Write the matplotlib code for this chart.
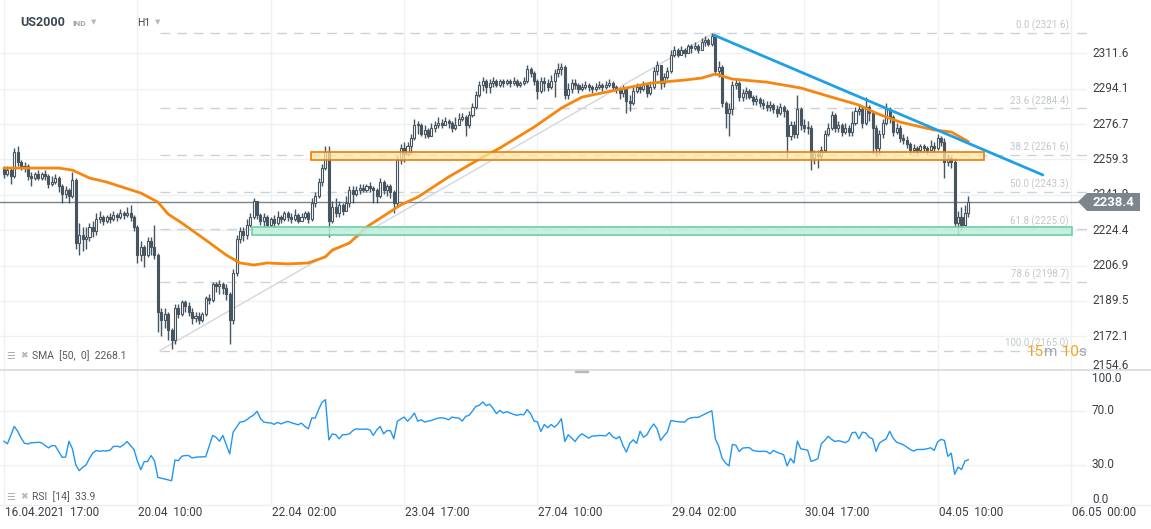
import numpy as np
import matplotlib.pyplot as plt
import matplotlib.transforms as mtransforms
from matplotlib.patches import Rectangle, Polygon
from matplotlib.lines import Line2D

plt.rcParams['font.family'] = ['Roboto', 'DejaVu Sans']

# hourly candles, bar index = position on the time axis
first_open = 2255.0
close = [2252, 2254, 2251, 2263, 2258, 2255, 2256, 2251, 2250, 2252, 2250, 2252, 2251, 2247, 2248, 2250, 2246, 2242, 2244, 2241, 2249, 2218, 2222, 2220,
         2221, 2226, 2224, 2230, 2231, 2229, 2231, 2230, 2232, 2231, 2233, 2232, 2233, 2231, 2226, 2212, 2216, 2212, 2219, 2216, 2212, 2184,
         2180, 2183, 2175, 2170, 2186, 2183, 2189, 2187, 2184, 2181, 2182, 2180, 2183, 2191, 2190, 2198, 2197, 2198, 2196, 2193,
         2180, 2203, 2220, 2224, 2222, 2227, 2231, 2239, 2232, 2229, 2231, 2227, 2230, 2228, 2231, 2230, 2233, 2231, 2230, 2232,
         2229, 2231, 2233, 2230, 2238, 2241, 2248, 2255, 2263, 2229, 2236, 2233, 2237, 2234,
         2238, 2244, 2242, 2244, 2245, 2244, 2246, 2245, 2244, 2241, 2248, 2244, 2246, 2243, 2238, 2259, 2265, 2262, 2266, 2270,
         2276, 2276, 2272, 2274, 2271, 2275, 2276, 2277, 2276, 2278, 2277, 2275, 2276, 2279, 2280, 2276,
         2281, 2285, 2291, 2296, 2298, 2295, 2297, 2298, 2296, 2298, 2297, 2298, 2297, 2298, 2296, 2297, 2298, 2304, 2302, 2298,
         2293, 2298, 2297, 2295, 2298, 2302, 2304, 2305, 2291, 2294, 2297, 2296, 2294, 2295, 2296, 2295, 2294, 2295, 2296, 2295,
         2296, 2297, 2295, 2294, 2292, 2294, 2288, 2287, 2293, 2295, 2294, 2296, 2292, 2295, 2303, 2306, 2297, 2300, 2303,
         2311, 2313, 2311, 2313, 2312, 2315, 2314, 2315, 2313, 2317, 2318, 2316, 2320, 2303, 2305, 2287, 2282, 2284, 2296, 2297,
         2290, 2292, 2293, 2290, 2288, 2289, 2287, 2286, 2285, 2286, 2284, 2282, 2285, 2283,
         2271, 2276, 2272, 2284, 2276, 2275, 2275, 2260, 2262, 2261, 2264, 2272, 2275, 2281, 2275, 2276, 2273, 2275, 2273, 2277,
         2283, 2284, 2277, 2285, 2282, 2275, 2265, 2272, 2277, 2284, 2280, 2273, 2275, 2270, 2269, 2267, 2264, 2265, 2264, 2266,
         2265, 2264, 2266, 2265, 2270, 2268, 2258, 2260, 2258, 2228, 2231, 2227, 2233, 2238.4]
high = [2256, 2256, 2255, 2265, 2266, 2259, 2258, 2257, 2253, 2253, 2254, 2253, 2254, 2252, 2251, 2252, 2251, 2247, 2246, 2245, 2253, 2250, 2228, 2226,
        2226, 2228, 2229, 2233, 2234, 2232, 2232, 2233, 2234, 2233, 2235, 2234, 2236, 2237, 2232, 2227, 2219, 2217, 2221, 2221, 2227, 2213,
        2186, 2186, 2184, 2176, 2188, 2188, 2190, 2190, 2189, 2186, 2184, 2184, 2184, 2192, 2193, 2199, 2199, 2200, 2199, 2198,
        2194, 2205, 2222, 2226, 2226, 2230, 2233, 2240, 2239, 2233, 2233, 2232, 2231, 2232, 2234, 2232, 2234, 2234, 2233, 2235,
        2233, 2233, 2234, 2234, 2240, 2243, 2250, 2257, 2266, 2266, 2239, 2240, 2239, 2238,
        2241, 2246, 2246, 2246, 2247, 2247, 2247, 2248, 2246, 2245, 2250, 2249, 2247, 2247, 2244, 2261, 2267, 2268, 2268, 2272,
        2279, 2278, 2277, 2276, 2275, 2277, 2278, 2280, 2279, 2280, 2279, 2278, 2280, 2282, 2282, 2281,
        2283, 2287, 2293, 2298, 2300, 2299, 2299, 2300, 2299, 2299, 2299, 2299, 2299, 2300, 2299, 2298, 2300, 2306, 2305, 2303,
        2299, 2300, 2300, 2299, 2301, 2304, 2307, 2307, 2306, 2297, 2299, 2299, 2297, 2297, 2298, 2297, 2296, 2297, 2298, 2297,
        2298, 2299, 2298, 2296, 2295, 2296, 2294, 2291, 2295, 2297, 2296, 2298, 2297, 2297, 2305, 2308, 2306, 2302, 2305,
        2313, 2315, 2314, 2315, 2314, 2316, 2316, 2317, 2316, 2319, 2320, 2319, 2321.6, 2321, 2308, 2306, 2288, 2287, 2298, 2299,
        2298, 2294, 2295, 2294, 2291, 2291, 2290, 2289, 2288, 2288, 2287, 2286, 2287, 2286,
        2284, 2278, 2278, 2291, 2285, 2279, 2278, 2276, 2264, 2264, 2266, 2274, 2277, 2283, 2282, 2278, 2277, 2277, 2276, 2283,
        2285, 2286, 2285, 2290, 2286, 2283, 2276, 2274, 2279, 2287, 2285, 2281, 2277, 2276, 2272, 2271, 2268, 2267, 2266, 2267,
        2267, 2266, 2269, 2268, 2272, 2271, 2270, 2262, 2261, 2260, 2234, 2236, 2237, 2241]
low = [2250, 2251, 2247, 2250, 2256, 2254, 2253, 2249, 2246, 2249, 2249, 2249, 2249, 2245, 2246, 2247, 2243, 2238, 2240, 2238, 2240, 2215, 2212, 2214,
       2215, 2219, 2221, 2222, 2228, 2227, 2228, 2228, 2229, 2229, 2230, 2230, 2231, 2229, 2224, 2208, 2209, 2206, 2211, 2212, 2210, 2174,
       2172, 2176, 2170, 2166, 2168, 2181, 2182, 2184, 2182, 2178, 2179, 2178, 2179, 2182, 2188, 2189, 2194, 2193, 2193, 2190,
       2168, 2178, 2202, 2218, 2219, 2220, 2226, 2230, 2230, 2227, 2226, 2226, 2226, 2226, 2227, 2228, 2229, 2229, 2228, 2229,
       2228, 2229, 2230, 2228, 2229, 2236, 2240, 2246, 2254, 2221, 2228, 2231, 2231, 2232,
       2234, 2236, 2238, 2241, 2242, 2243, 2243, 2243, 2238, 2238, 2240, 2242, 2241, 2240, 2233, 2236, 2257, 2258, 2261, 2262,
       2269, 2272, 2271, 2270, 2270, 2271, 2273, 2275, 2275, 2276, 2275, 2273, 2274, 2276, 2278, 2271,
       2275, 2280, 2284, 2290, 2293, 2292, 2292, 2295, 2295, 2295, 2295, 2296, 2295, 2296, 2295, 2295, 2296, 2297, 2300, 2296,
       2289, 2292, 2293, 2293, 2294, 2290, 2300, 2301, 2289, 2289, 2292, 2294, 2292, 2293, 2294, 2293, 2292, 2293, 2294, 2293,
       2294, 2295, 2293, 2292, 2289, 2290, 2282, 2283, 2286, 2292, 2292, 2293, 2290, 2291, 2294, 2301, 2294, 2295, 2299,
       2302, 2310, 2310, 2311, 2310, 2312, 2312, 2313, 2312, 2313, 2315, 2315, 2315, 2301, 2300, 2285, 2275, 2271, 2281, 2294,
       2288, 2288, 2289, 2289, 2286, 2286, 2285, 2284, 2283, 2283, 2282, 2280, 2281, 2280,
       2260, 2269, 2270, 2270, 2274, 2273, 2272, 2254, 2257, 2255, 2259, 2263, 2271, 2274, 2273, 2273, 2271, 2272, 2271, 2271,
       2276, 2281, 2275, 2276, 2278, 2262, 2261, 2262, 2270, 2276, 2277, 2271, 2272, 2268, 2267, 2265, 2262, 2263, 2262, 2263,
       2263, 2262, 2264, 2263, 2264, 2266, 2250, 2256, 2255, 2226, 2222, 2224, 2228, 2231]

sma_bar = [0, 16, 20, 25, 30, 40, 45, 48, 52, 59, 65, 69, 73, 77, 83, 89, 94, 96, 101, 106, 116, 121, 130, 140, 145,
           155, 163, 169, 179, 189, 199, 204, 208, 213, 223, 233, 242, 250, 255, 262, 272, 277, 282]
sma_val = [2255.0, 2255.0, 2254.0, 2250.1, 2248.1, 2242.7, 2238.2, 2232.3, 2227.9, 2219.5, 2212.1, 2208.2, 2207.2,
           2208.2, 2207.7, 2208.2, 2211.2, 2214.6, 2218.0, 2225.9, 2236.8, 2240.7, 2250.6, 2260.4, 2264.9, 2275.2,
           2284.6, 2290.0, 2293.5, 2296.9, 2298.4, 2299.4, 2301.4, 2298.9, 2297.4, 2294.5, 2290.0, 2286.1, 2282.1,
           2277.7, 2273.8, 2272.8, 2268.1]

rsi = [47.6, 45.7, 52, 58.6, 55, 50, 46.1, 45.6, 46.5, 46.6, 46.8, 46.5, 44.5, 42.7, 44.4, 44.2, 40, 35.7, 35.8, 47.6,
       42, 30, 25.8, 28.3, 30, 35, 39, 40.7, 40.2, 40.5, 40.4, 41, 43.7, 43.9, 43.3, 45, 47.4, 44.4, 41.5, 33,
       26.5, 32.5, 32.6, 37, 33.2, 20.8, 20.2, 19.6, 19, 18.3, 33.7, 33.2, 36.5, 37, 37, 35.2, 35.7, 36, 36, 36.2,
       44, 51.9, 50.6, 47.6, 51.9, 45, 38.2, 54.3, 58, 61.8, 62.1, 63.5, 65.5, 67, 69.8, 64.3, 61.8, 61.3, 61.2, 60.1,
       61.6, 60.4, 61.5, 62.3, 61.3, 60.6, 59.8, 61, 58.5, 56.8, 64.8, 64.8, 71, 76.5, 78.4, 48.6, 53, 52.5, 49.4, 52.4,
       52.5, 53, 55.5, 56.8, 56.5, 56.5, 56.7, 56, 51.9, 56, 58.6, 53.1, 55.5, 55.4, 49.4, 62.3, 64, 65.5, 62.5, 65,
       68.5, 62.5, 63.5, 61.8, 62.5, 63, 64, 64.8, 65, 64.5, 63.5, 65.5, 65, 64.8, 62.5, 66, 66.8, 70, 73.5, 74.2,
       76.7, 74, 75, 72, 68, 70.5, 68.5, 69.5, 68.5, 67.5, 66.8, 67.5, 67.2, 71, 68, 62.5, 62, 54.8, 60, 57.6,
       60, 58, 60.5, 64.3, 47.4, 52.4, 50, 47.4, 51, 53.1, 51.5, 49.9, 51.5, 51.5, 51.9, 51.8, 51.6, 54, 51, 49.4,
       51.1, 44.5, 39.6, 46, 48.7, 46, 55, 50.6, 52.3, 57, 60.4, 56.7, 48.2, 51.5, 54.5, 62.9, 62.5, 62.1, 61.9, 61.7,
       64.1, 65, 65.3, 65.3, 66.5, 67.8, 69, 70.2, 49.4, 44, 35, 31.5, 29.3, 45.2, 44.7, 40, 42.5, 42.8, 42.8, 40.8,
       40.3, 40, 40.2, 40, 38.3, 40.8, 39.5, 38.5, 37.6, 29.3, 34.9, 31.5, 47.7, 42, 41.5, 41, 32.7, 33.5, 34.7, 45.7,
       48.2, 51.3, 49, 47.4, 48, 47.4, 46.5, 48, 53.8, 54.3, 49.4, 54.3, 53.8, 50.5, 49.4, 40, 46.2, 48, 49.4, 55,
       50, 46.9, 46, 45, 43.3, 41.5, 40.3, 41.5, 41.5, 41.6, 42, 42.8, 40.8, 47, 49, 48.2, 36.4, 38.8, 23.1, 28.5,
       26.6, 32.9, 33.9]

fib_pct = ['0.0', '23.6', '38.2', '50.0', '61.8', '78.6', '100.0']
fib_price = [2321.6, 2284.4, 2261.6, 2243.3, 2225.0, 2198.7, 2165.0]
fib_anchor_bar = [45.6, 207.6]
trend_bar = [207.6, 303.8]
trend_price = [2320.6, 2251.6]
resist_zone = [89.8, 286.5, 2258.8, 2262.9]
support_zone = [72.5, 312.3, 2221.8, 2225.8]
price_ticks = [2154.6, 2172.1, 2189.5, 2206.9, 2224.4, 2241.9, 2259.3, 2276.7, 2294.1, 2311.6]
rsi_ticks = [100.0, 70.0, 30.0, 0.0]
time_bars = [0, 39, 78, 117, 156, 195, 234, 273, 312]
time_labels = ['16.04.2021  17:00', '20.04  10:00', '22.04  02:00', '23.04  17:00', '27.04  10:00',
               '29.04  02:00', '30.04  17:00', '04.05  10:00', '06.05  00:00']
last_price = 2238.4
sma_last = 2268.1
rsi_last = 33.9

W, H = 1151, 529
fig = plt.figure(figsize=(W / 100, H / 100), dpi=100)


def fx(px):
    return px / W


def fy(py):
    return 1 - py / H


ax = fig.add_axes([0, fy(370), fx(1087), 370 / H])
rx = fig.add_axes([0, fy(505.5), fx(1087), 135 / H])
for a in (ax, rx):
    a.set_axis_off()
    a.set_xlim(-1.17, 316.7)
ax.set_ylim(2155.4, 2337.9)
rx.set_ylim(0, 100)

grid_c = '#eef0f2'
for b in time_bars:
    ax.axvline(b, color=grid_c, lw=1, zorder=0)
    rx.axvline(b, color=grid_c, lw=1, zorder=0)
for p in price_ticks:
    ax.axhline(p, color=grid_c, lw=1, zorder=0)
for r in (70, 30):
    rx.axhline(r, color=grid_c, lw=1, zorder=0)

# fibonacci retracement
for p in fib_price:
    ax.plot([fib_anchor_bar[0], 316.7], [p, p], ls=(0, (7, 5)), color='#cdd2d6', lw=1, zorder=1)
ax.plot(fib_anchor_bar, [fib_price[-1], fib_price[0]], color='#d3d7db', lw=1, zorder=1.5)
blend = mtransforms.blended_transform_factory(fig.transFigure, ax.transData)
for lab, p in zip(fib_pct, fib_price):
    ax.annotate(f'{lab} ({p:.1f})', xy=(fx(1069), p), xycoords=blend, xytext=(0, 5.5),
                textcoords='offset points', ha='right', va='center', fontsize=7, color='#c3c7cb')

ax.axhline(last_price, color='#7b848b', lw=1, zorder=1.8)

# candles
o = np.array([first_open] + close[:-1], dtype=float)
c = np.array(close, dtype=float)
hi = np.maximum(np.array(high, dtype=float), np.maximum(o, c))
lo = np.minimum(np.array(low, dtype=float), np.minimum(o, c))
idx = np.arange(len(c))
up = c >= o
dark = '#46555f'
ax.vlines(idx, lo, hi, color=dark, lw=1, zorder=2)
body_lo = np.minimum(o, c)
body_h = np.maximum(np.abs(c - o), 0.5)
ax.bar(idx[up], body_h[up], 0.6, bottom=body_lo[up], color='white', edgecolor=dark, lw=0.8, zorder=3)
ax.bar(idx[~up], body_h[~up], 0.6, bottom=body_lo[~up], color=dark, edgecolor=dark, lw=0.8, zorder=3)

ax.plot(sma_bar, sma_val, color='#f7860f', lw=2, zorder=4, solid_capstyle='round')

ax.add_patch(Rectangle((resist_zone[0], resist_zone[2]), resist_zone[1] - resist_zone[0],
                       resist_zone[3] - resist_zone[2], facecolor='#fbe6a8', alpha=0.75,
                       edgecolor='none', zorder=5))
ax.add_patch(Rectangle((resist_zone[0], resist_zone[2]), resist_zone[1] - resist_zone[0],
                       resist_zone[3] - resist_zone[2], facecolor='none', edgecolor='#f07c00',
                       lw=1.2, zorder=5.1))
ax.add_patch(Rectangle((support_zone[0], support_zone[2]), support_zone[1] - support_zone[0],
                       support_zone[3] - support_zone[2], facecolor='#bfeedb', alpha=0.85,
                       edgecolor='none', zorder=5))
ax.add_patch(Rectangle((support_zone[0], support_zone[2]), support_zone[1] - support_zone[0],
                       support_zone[3] - support_zone[2], facecolor='none', edgecolor='#6ccfa5',
                       lw=1.2, zorder=5.1))
ax.plot(trend_bar, trend_price, color='#1ea0e6', lw=2, zorder=6, solid_capstyle='round')

# RSI
rx.plot(idx, rsi, color='#2196f3', lw=1, zorder=3)

# panel separators
fig.add_artist(Line2D([0, 1], [fy(370), fy(370)], color='#d7dadd', lw=1.2))
fig.add_artist(Line2D([0, 1], [fy(505), fy(505)], color='#eceef0', lw=1))
fig.add_artist(Rectangle((fx(575), fy(372)), fx(13), 2 / H, color='#b5babe', transform=fig.transFigure))

# axis labels
txt_c = '#3a3f44'
for p in price_ticks:
    fig.text(fx(1092), 0, f'{p:.1f}', transform=blend, va='center', ha='left', fontsize=8.5,
             color=txt_c).set_y(max(p, 2157.8))
rblend = mtransforms.blended_transform_factory(fig.transFigure, rx.transData)
for r in rsi_ticks:
    fig.text(fx(1092), min(max(r, 4.1), 94.4), f'{r:.1f}', transform=rblend, va='center',
             ha='left', fontsize=8.5, color=txt_c)
tblend = mtransforms.blended_transform_factory(rx.transData, fig.transFigure)
for b, lab in zip(time_bars, time_labels):
    fig.text(b + 0.3, fy(513), lab, transform=tblend, va='center', ha='left', fontsize=8.5,
             color=txt_c)

# current price tag
tag = [(1078, 201.7), (1087, 193), (1140, 193), (1140, 211), (1087, 211)]
fig.add_artist(Polygon([(fx(x), fy(y)) for x, y in tag], closed=True, facecolor='#7d868c',
                       edgecolor='none', transform=fig.transFigure, zorder=10))
fig.text(fx(1113), fy(202), f'{last_price:.1f}', ha='center', va='center', fontsize=9.5,
         color='white', fontweight='bold', zorder=11)

# header
fig.text(fx(20), fy(23), 'US2000', fontsize=9, fontweight='bold', color='#3c4650', va='center')
fig.text(fx(72), fy(23), 'IND', fontsize=6, fontweight='bold', color='#9aa3ab', va='center')
fig.text(fx(91), fy(22), '▼', fontsize=5, color='#b4babf', va='center', family='DejaVu Sans')
fig.text(fx(137), fy(23), 'H1', fontsize=7.5, color='#3c4650', va='center')
fig.text(fx(155), fy(22), '▼', fontsize=5, color='#b4babf', va='center', family='DejaVu Sans')

# indicator legends
for yy, label in [(356, f'SMA  [50,  0]  {sma_last}'), (497, f'RSI  [14]  {rsi_last}')]:
    fig.text(fx(6), fy(yy), '☰', fontsize=7, color='#a8aeb3', va='center', family='DejaVu Sans')
    fig.text(fx(20), fy(yy), '✖', fontsize=6.5, color='#b3b8bc', va='center', family='DejaVu Sans')
    fig.text(fx(32), fy(yy), label, fontsize=7.5, color='#555b60', va='center')

# countdown
renderer = fig.canvas.get_renderer()
xpos = 1027
for s, col in [('15', '#f5a21b'), ('m', '#a3a8ad'), (' 10', '#f5a21b'), ('s', '#a3a8ad')]:
    t = fig.text(fx(xpos), fy(352), s, color=col, fontsize=11, va='center', ha='left')
    xpos += t.get_window_extent(renderer).width

fig.savefig('out.png', dpi=100)
